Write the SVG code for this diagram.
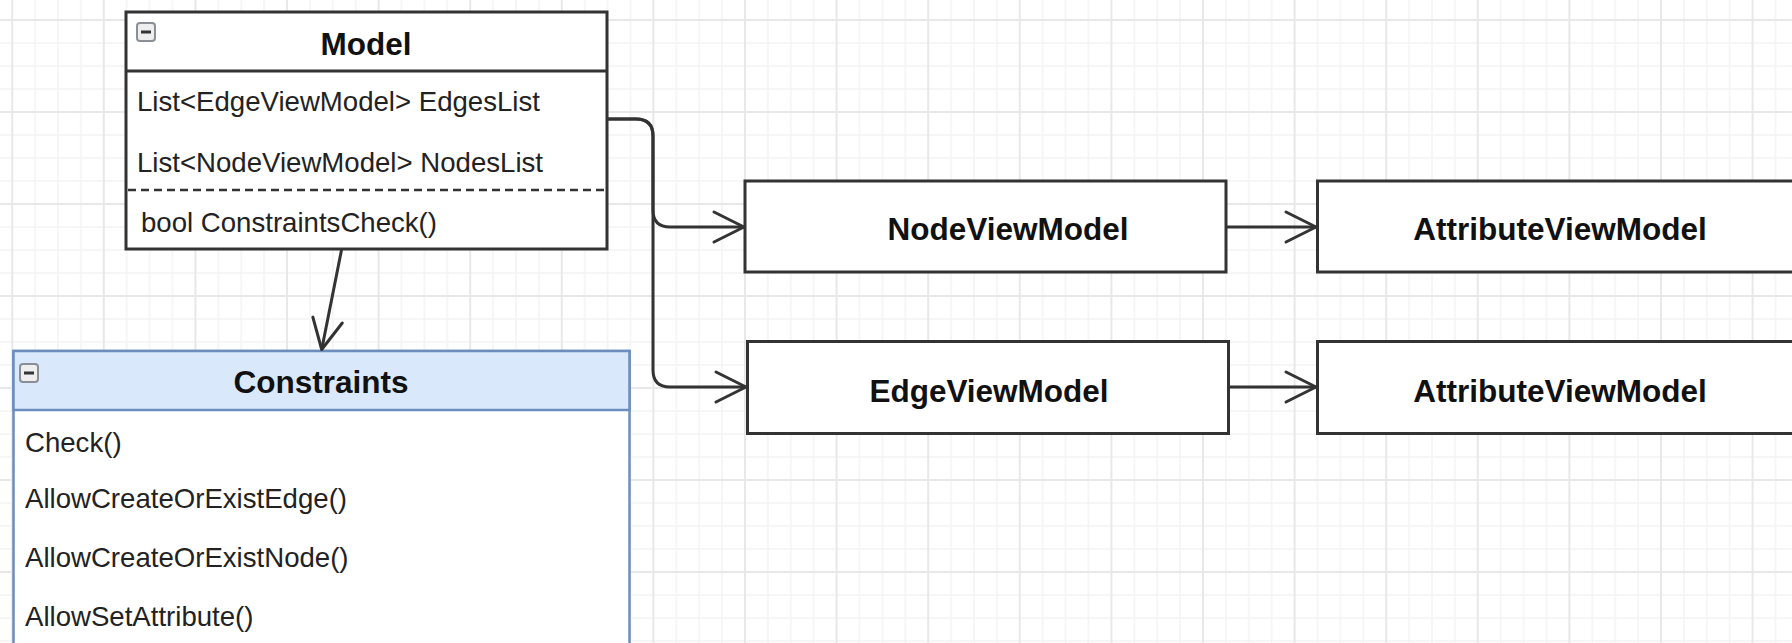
<svg xmlns="http://www.w3.org/2000/svg" width="1792" height="643" viewBox="0 0 1792 643">
<defs>
  <pattern id="grid" patternUnits="userSpaceOnUse" x="11.2" y="19" width="91.6" height="92">
    <path d="M23.9,0V92M46.8,0V92M69.7,0V92M0,24H91.6M0,47H91.6M0,70H91.6" stroke="#f4f4f4" stroke-width="1.5" fill="none"/>
    <path d="M1,0V92M0,1H91.6" stroke="#e8e8e8" stroke-width="2" fill="none"/>
  </pattern>
  <marker id="open" markerUnits="userSpaceOnUse" markerWidth="36" markerHeight="36" refX="30" refY="15" orient="auto" overflow="visible">
    <path d="M0,0 L30,15 L0,30" fill="none" stroke="#333" stroke-width="3" stroke-linejoin="round" stroke-linecap="round"/>
  </marker>
</defs>
<style>
  .box{fill:#fff;stroke:#333;stroke-width:3}
  .cbox{fill:#fff;stroke:#6c8ebf;stroke-width:2.5}
  .chead{fill:#dae8fc;stroke:#6c8ebf;stroke-width:2.5}
  .title{font-family:"Liberation Sans",Arial,sans-serif;font-weight:bold;font-size:31.5px;fill:#111}
  .attr{font-family:"Liberation Sans",Arial,sans-serif;font-size:27.6px;fill:#222}
  .conn{fill:none;stroke:#333;stroke-width:3}
  .icon{fill:#eeeeee;stroke:#8a8f96;stroke-width:2}
  .minus{stroke:#333;stroke-width:3}
</style>
<rect width="1792" height="643" fill="#fff"/>
<rect width="1792" height="643" fill="url(#grid)"/>

<g id="model">
  <rect class="box" x="126" y="12" width="481" height="237"/>
  <line x1="126" y1="71" x2="607" y2="71" stroke="#333" stroke-width="3"/>
  <line x1="128" y1="190" x2="605" y2="190" stroke="#333" stroke-width="2.5" stroke-dasharray="8,5"/>
  <rect class="icon" x="137" y="23" width="18" height="18" rx="3"/>
  <line class="minus" x1="141" y1="32" x2="151" y2="32"/>
  <text class="title" x="366" y="54.5" text-anchor="middle">Model</text>
  <text class="attr" x="137" y="111">List&lt;EdgeViewModel&gt; EdgesList</text>
  <text class="attr" x="137" y="171.5">List&lt;NodeViewModel&gt; NodesList</text>
  <text class="attr" x="141" y="232">bool ConstraintsCheck()</text>
</g>

<g id="constraints">
  <rect class="cbox" x="13.5" y="351" width="616" height="310"/>
  <rect class="chead" x="13.5" y="351" width="616" height="59"/>
  <rect class="icon" x="20" y="364" width="18" height="18" rx="3"/>
  <line class="minus" x1="24" y1="373" x2="34" y2="373"/>
  <text class="title" x="321" y="393" text-anchor="middle">Constraints</text>
  <text class="attr" x="25" y="452">Check()</text>
  <text class="attr" x="25" y="507.5">AllowCreateOrExistEdge()</text>
  <text class="attr" x="25" y="567">AllowCreateOrExistNode()</text>
  <text class="attr" x="25" y="626">AllowSetAttribute()</text>
</g>

<g id="nodeviewmodel">
  <rect class="box" x="745" y="181" width="481" height="91"/>
  <text class="title" x="1008" y="240" text-anchor="middle">NodeViewModel</text>
</g>

<g id="edgeviewmodel">
  <rect class="box" x="747.5" y="341.5" width="481" height="92"/>
  <text class="title" x="989" y="401.5" text-anchor="middle">EdgeViewModel</text>
</g>

<g id="attributeviewmodel1">
  <rect class="box" x="1317.5" y="181" width="520" height="91"/>
  <text class="title" x="1560" y="240" text-anchor="middle">AttributeViewModel</text>
</g>

<g id="attributeviewmodel2">
  <rect class="box" x="1317.5" y="341.5" width="520" height="92"/>
  <text class="title" x="1560" y="401.5" text-anchor="middle">AttributeViewModel</text>
</g>

<g id="connectors">
  <path class="conn" d="M607,119 H636 Q653,119 653,136 V210 Q653,227 670,227 H744" marker-end="url(#open)"/>
  <path class="conn" d="M607,119 H636 Q653,119 653,136 V370 Q653,387 670,387 H746" marker-end="url(#open)"/>
  <path class="conn" d="M1226,227 H1316" marker-end="url(#open)"/>
  <path class="conn" d="M1228.5,387 H1316" marker-end="url(#open)"/>
  <path class="conn" d="M341.5,250 L321.7,349.5" marker-end="url(#open)"/>
</g>
</svg>
